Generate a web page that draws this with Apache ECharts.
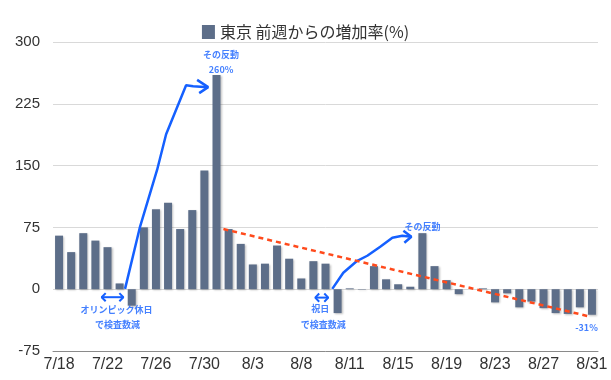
<!DOCTYPE html>
<html>
<head>
<meta charset="utf-8">
<script src="https://cdn.jsdelivr.net/npm/echarts@6/dist/echarts.min.js"></script>
<style>html,body{margin:0;padding:0;background:#fff}#c{width:611px;height:380px}</style>
</head>
<body>
<div id="c"></div>
<script>
// ---- data ----
const categories = ['7/18','7/19','7/20','7/21','7/22','7/23','7/24','7/25','7/26','7/27','7/28','7/29','7/30','7/31',
  '8/1','8/2','8/3','8/4','8/5','8/6','8/7','8/8','8/9','8/10','8/11','8/12','8/13','8/14','8/15','8/16',
  '8/17','8/18','8/19','8/20','8/21','8/22','8/23','8/24','8/25','8/26','8/27','8/28','8/29','8/30','8/31'];
const values = [65, 45, 68, 59, 51, 7, -20, 75, 97, 105, 73, 96, 144, 260,
  73, 55, 30, 31, 53, 37, 13, 34, 31, -29, 1, -0.5, 28, 12, 6, 3,
  68, 28, 11, -6, 0, 1, -16, -5, -22, -15, -23, -29, -30, -22, -31];
const tickLabels = ['7/18','7/22','7/26','7/30','8/3','8/8','8/11','8/15','8/19','8/23','8/27','8/31'];
const yTicks = { min: -75, max: 300, interval: 75 };
const seriesName = '東京 前週からの増加率(%)';

// ---- annotations (in data coordinates: [category index, value]) ----
const arrowOlympic = [[5.45,0.4],[6.69,76],[8.1,145],[8.84,188],[10.49,247.6],[11.07,246.4],[12.31,245.2]];
const arrowOlympicHead = [[11.4,254],[12.31,245.2],[11.57,238]];
const arrowHoliday = [[22.56,0.4],[23.47,20],[24.62,34.5],[25.45,40.6],[26.52,51.5],[27.52,62.5],[28.34,64.9],[29.09,63.7]];
const arrowHolidayHead = [[28.43,71],[29.09,63.7],[28.51,56.4]];
const trendStart = [13.57, 73];
const trendEnd = [43.88, -33.4];
const dbl1 = { from: 3.52, to: 5.31, y: -9.7 };
const dbl2 = { from: 21.15, to: 22.23, y: -10.2 };
const notes = [
  { name: 'その反動', value: [13.38, 285] },
  { name: '260%', value: [13.38, 267] },
  { name: 'オリンピック休日', value: [4.74, -25] },
  { name: 'で検査数減', value: [4.83, -42.5] },
  { name: '祝日', value: [21.57, -24] },
  { name: 'で検査数減', value: [21.81, -42.5] },
  { name: 'その反動', value: [30.0, 76] },
  { name: '-31%', value: [43.55, -46] }
];

const BLUE = '#1560ff';
const RED = '#ff4a1c';
const BAR = '#5d6e89';

function polySeries(pts, color, width) {
  return { type: 'line', xAxisIndex: 1, yAxisIndex: 0, data: pts, symbol: 'none', silent: true,
    lineStyle: { color: color, width: width }, z: 5, animation: false };
}
function dblArrow(d) {
  const hx = 0.33, hy = 5;
  return [
    [[d.from, d.y], [d.to, d.y]],
    [[d.from + hx, d.y + hy], [d.from, d.y], [d.from + hx, d.y - hy]],
    [[d.to - hx, d.y + hy], [d.to, d.y], [d.to - hx, d.y - hy]]
  ];
}

const series = [
  { name: seriesName, type: 'bar', data: values, barWidth: 8,
    itemStyle: { color: BAR, shadowColor: 'rgba(0,0,0,0.25)', shadowBlur: 2, shadowOffsetX: 1, shadowOffsetY: 1 },
    animation: false },
  polySeries(arrowOlympic, BLUE, 2.5),
  polySeries(arrowOlympicHead, BLUE, 2.5),
  polySeries(arrowHoliday, BLUE, 2.5),
  polySeries(arrowHolidayHead, BLUE, 2.5),
  { type: 'line', xAxisIndex: 1, data: [trendStart, trendEnd], symbol: 'none', silent: true, animation: false,
    lineStyle: { color: RED, width: 2.5, type: [5, 4] }, z: 6,
    markLine: { silent: true, symbol: ['none', 'arrow'], symbolSize: [10, 10], label: { show: false },
      lineStyle: { color: 'rgba(0,0,0,0)', width: 0 },
      data: [[{ coord: [trendEnd[0] - 0.4, trendEnd[1] + 1.4] }, { coord: trendEnd, symbol: 'arrow', itemStyle: { color: RED } }]] } }
];
dblArrow(dbl1).concat(dblArrow(dbl2)).forEach(p => series.push(polySeries(p, BLUE, 2)));
series.push({ type: 'scatter', xAxisIndex: 1, data: notes, symbolSize: 0, silent: true, animation: false, z: 10,
  label: { show: true, position: 'inside', formatter: '{b}', color: BLUE, fontSize: 9, fontWeight: 'bold',
    fontFamily: 'Noto Sans CJK JP' } });

const chart = echarts.init(document.getElementById('c'));
chart.setOption({
  backgroundColor: '#fff',
  animation: false,
  legend: { data: [{ name: seriesName, icon: 'rect' }], top: 19, left: 'center', itemWidth: 13, itemHeight: 14,
    itemGap: 8, textStyle: { fontSize: 16, color: '#333', fontFamily: 'Noto Sans CJK JP' } },
  grid: { left: 53, right: 13, top: 42, bottom: 29 },
  xAxis: [
    { type: 'category', data: categories, boundaryGap: true,
      axisLine: { show: true, onZero: false, lineStyle: { color: '#8a8a8a', width: 1 } },
      axisTick: { show: false },
      axisLabel: { interval: 3, color: '#333', fontSize: 16, margin: 6, fontFamily: 'Liberation Sans',
        formatter: (v, i) => tickLabels[Math.round(i / 4)] } },
    { type: 'value', min: -0.5, max: 44.5, show: false }
  ],
  yAxis: { type: 'value', min: yTicks.min, max: yTicks.max, interval: yTicks.interval,
    axisLine: { show: false }, axisTick: { show: false },
    splitLine: { lineStyle: { color: '#d9d9d9', width: 1 } },
    axisLabel: { color: '#333', fontSize: 15, margin: 13, fontFamily: 'Liberation Sans' } },
  series: series
});
</script>
</body>
</html>
